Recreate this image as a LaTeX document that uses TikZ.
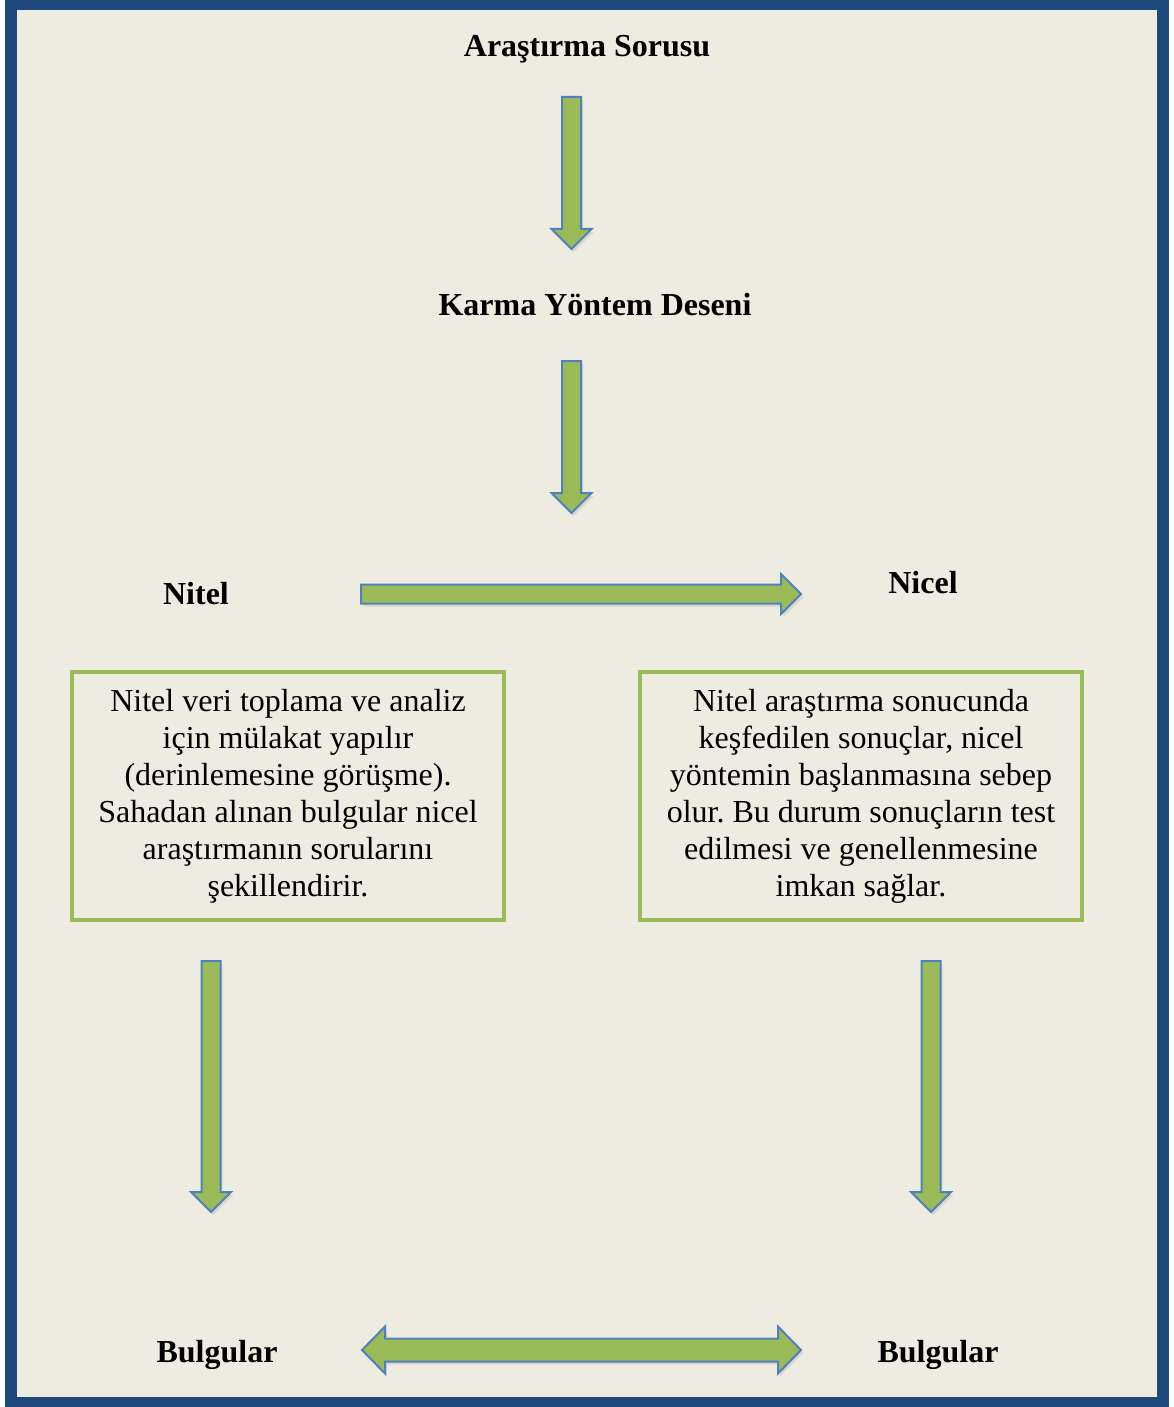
\documentclass[tikz,border=0pt]{standalone}
\usepackage{fontspec}
\setmainfont{Liberation Serif}
\usetikzlibrary{calc,positioning,shadows}
\frenchspacing

\definecolor{frameblue}{HTML}{1F497D}
\definecolor{paper}{HTML}{EEECE1}
\definecolor{olivegreen}{HTML}{9BBB59}
\definecolor{edgeblue}{HTML}{4F81BD}

\tikzset{
  title/.style={font=\fontsize{16}{19}\selectfont\bfseries, inner sep=2pt},
  textbox/.style={draw=olivegreen, line width=1.6pt, align=center,
    font=\fontsize{16}{18.5}\selectfont, inner sep=0pt, minimum height=124pt},
  fatarrow/.style={fill=olivegreen, draw=edgeblue, line width=1pt,
    drop shadow={opacity=0.2, shadow xshift=1pt, shadow yshift=-1.5pt}},
}

% block arrow, head at #2
\newcommand{\singleflow}[2]{%
  \coordinate (hd) at ($(#2)!10pt!(#1)$);
  \draw[fatarrow] ($(#1)!4.75pt!90:(#2)$) -- ($(hd)!4.75pt!-90:(#1)$)
    -- ($(hd)!10pt!-90:(#1)$) -- (#2) -- ($(hd)!10pt!90:(#1)$)
    -- ($(hd)!4.75pt!90:(#1)$) -- ($(#1)!4.75pt!-90:(#2)$) -- cycle;
}
% block arrow, heads at both ends
\newcommand{\doubleflow}[2]{%
  \coordinate (ha) at ($(#1)!11.5pt!(#2)$);
  \coordinate (hb) at ($(#2)!11.5pt!(#1)$);
  \draw[fatarrow] (#1) -- ($(ha)!11.75pt!90:(#2)$) -- ($(ha)!5.75pt!90:(#2)$)
    -- ($(hb)!5.75pt!-90:(#1)$) -- ($(hb)!11.75pt!-90:(#1)$) -- (#2)
    -- ($(hb)!11.75pt!90:(#1)$) -- ($(hb)!5.75pt!90:(#1)$)
    -- ($(ha)!5.75pt!-90:(#2)$) -- ($(ha)!11.75pt!-90:(#2)$) -- cycle;
}

\begin{document}
\begin{tikzpicture}[x=0.5pt, y=-0.5pt]

    \useasboundingbox (0,0) rectangle (1173,1407);
    % frame
    \fill[frameblue] (5,0) rectangle (1169,1407);
    \fill[paper] (17,10) rectangle (1157,1397);

    \node[title] (soru) at (587,49) {Araştırma Sorusu};
    \node[title] (desen) at (595,305) {Karma Yöntem Deseni};
    \node[title] (nitel) at (196,594) {Nitel};
    \node[title] (nicel) at (923,583) {Nicel};

    \node[textbox, minimum width=216pt] (nitelbox) at (288,796)
        {Nitel veri toplama ve analiz\\ için mülakat yapılır\\
         (derinlemesine görüşme).\\ Sahadan alınan bulgular nicel\\
         araştırmanın sorularını\\ şekillendirir.};
    \node[textbox, minimum width=221pt] (nicelbox) at (861,796)
        {Nitel araştırma sonucunda\\ keşfedilen sonuçlar, nicel\\
         yöntemin başlanmasına sebep\\ olur. Bu durum sonuçların test\\
         edilmesi ve genellenmesine\\ imkan sağlar.};

    \node[title] (bulgu1) at (217,1355) {Bulgular};
    \node[title] (bulgu2) at (938,1355) {Bulgular};

    % arrow ends
    \coordinate (s1) at (571.5,97);   \coordinate (e1) at (571.5,249);
    \coordinate (s2) at (571.5,361);  \coordinate (e2) at (571.5,513);
    \coordinate (s3) at (361,594);    \coordinate (e3) at (801,594);
    \coordinate (s4) at (211,961);    \coordinate (e4) at (211,1212);
    \coordinate (s5) at (931,961);    \coordinate (e5) at (931,1212);
    \coordinate (s6) at (362,1350);   \coordinate (e6) at (801,1350);

    \singleflow{s1}{e1}
    \singleflow{s2}{e2}
    \singleflow{s3}{e3}
    \singleflow{s4}{e4}
    \singleflow{s5}{e5}
    \doubleflow{s6}{e6}

\end{tikzpicture}
\end{document}
